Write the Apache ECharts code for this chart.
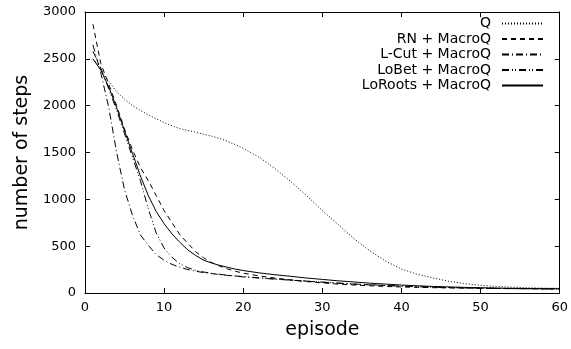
<!DOCTYPE html>
<html>
<head>
<meta charset="utf-8">
<script src="https://cdn.jsdelivr.net/npm/echarts@6/dist/echarts.min.js"></script>
<style>
  html, body { margin: 0; padding: 0; background: #fff; }
  #chart { width: 571px; height: 349px; }
</style>
</head>
<body>
<div id="chart"></div>
<script>
const episodes = [1, 2, 3, 4, 5, 6, 7, 8, 9, 10, 11, 12, 13, 14, 15, 16, 17, 18, 19, 20,
  22, 24, 26, 28, 30, 32, 34, 36, 38, 40, 42, 44, 46, 48, 50, 52, 54, 56, 58, 60];

const qSteps = [2500, 2390, 2260, 2150, 2070, 2000, 1950, 1900, 1860, 1820, 1785, 1755, 1735, 1715, 1695, 1675, 1650, 1620, 1585, 1545,
  1450, 1330, 1190, 1040, 880, 730, 580, 450, 340, 255, 200, 160, 125, 100, 82, 70, 62, 56, 52, 50];
const rnSteps = [2870, 2450, 2230, 2000, 1750, 1530, 1340, 1200, 1040, 880, 750, 620, 530, 440, 375, 325, 288, 258, 232, 212,
  182, 160, 140, 122, 108, 95, 85, 77, 70, 64, 60, 57, 54, 52, 50, 48, 47, 46, 45, 44];
const lcutSteps = [2650, 2350, 1980, 1500, 1100, 830, 620, 510, 410, 350, 305, 275, 250, 232, 218, 207, 197, 188, 180, 172,
  160, 148, 137, 126, 115, 105, 95, 87, 80, 73, 67, 62, 58, 54, 51, 49, 47, 45, 44, 43];
const lobetSteps = [2580, 2400, 2180, 1950, 1700, 1450, 1200, 900, 640, 480, 380, 310, 270, 242, 224, 211, 200, 190, 182, 175,
  162, 150, 138, 127, 116, 106, 96, 88, 81, 74, 68, 63, 58, 55, 52, 49, 47, 46, 44, 43];
const lorootsSteps = [2500, 2380, 2200, 1980, 1730, 1490, 1250, 1040, 870, 740, 630, 540, 460, 400, 350, 320, 295, 275, 255, 240,
  215, 195, 178, 160, 145, 130, 118, 105, 95, 85, 77, 70, 65, 60, 56, 53, 50, 48, 46, 45];

const seriesNames = ['Q', 'RN + MacroQ', 'L-Cut + MacroQ', 'LoBet + MacroQ', 'LoRoots + MacroQ'];
const seriesValues = [qSteps, rnSteps, lcutSteps, lobetSteps, lorootsSteps];
const dashes = [[1, 2], [5, 4], [7, 3, 1, 3], [7, 3, 1, 2, 1, 3], 'solid'];

const font = 'DejaVu Sans';
const chart = echarts.init(document.getElementById('chart'));

const axisCommon = {
  axisLine: {show: true, onZero: false, lineStyle: {color: '#000', width: 1}},
  axisTick: {show: true, inside: true, length: 5, lineStyle: {color: '#000'}},
  splitLine: {show: false},
};

const option = {
  animation: false,
  grid: {left: 85, right: 10, top: 12, bottom: 56},
  legend: {
    orient: 'vertical',
    right: 22,
    top: 11,
    align: 'right',
    itemWidth: 41,
    itemHeight: 10,
    itemGap: 0.5,
    itemStyle: {opacity: 0},
    textStyle: {fontFamily: font, fontSize: 14, lineHeight: 15, color: '#000', padding: [0, 6, 0, 0]},
    data: seriesNames,
  },
  xAxis: [
    {
      ...axisCommon,
      type: 'value',
      min: 0,
      max: 60,
      interval: 10,
      name: 'episode',
      nameLocation: 'middle',
      nameGap: 28,
      nameTextStyle: {fontFamily: font, fontSize: 19, color: '#000'},
      axisLabel: {fontFamily: font, fontSize: 13, color: '#000', margin: 8},
    },
    {
      ...axisCommon,
      type: 'value',
      position: 'top',
      min: 0,
      max: 60,
      interval: 10,
      axisLabel: {show: false},
    },
  ],
  yAxis: [
    {
      ...axisCommon,
      type: 'value',
      min: 0,
      max: 3000,
      interval: 500,
      name: 'number of steps',
      nameLocation: 'middle',
      nameGap: 50,
      nameTextStyle: {fontFamily: font, fontSize: 19, color: '#000'},
      axisLabel: {fontFamily: font, fontSize: 13, color: '#000', margin: 9, formatter: (v) => String(v)},
    },
    {
      ...axisCommon,
      type: 'value',
      position: 'right',
      min: 0,
      max: 3000,
      interval: 500,
      axisLabel: {show: false},
    },
  ],
  series: seriesNames.map((name, i) => ({
    name: name,
    type: 'line',
    symbol: 'none',
    smooth: false,
    data: episodes.map((e, j) => [e, seriesValues[i][j]]),
    itemStyle: {color: '#000'},
    lineStyle: {color: '#000', width: 1, type: dashes[i]},
  })),
};

chart.setOption(option);
</script>
</body>
</html>
